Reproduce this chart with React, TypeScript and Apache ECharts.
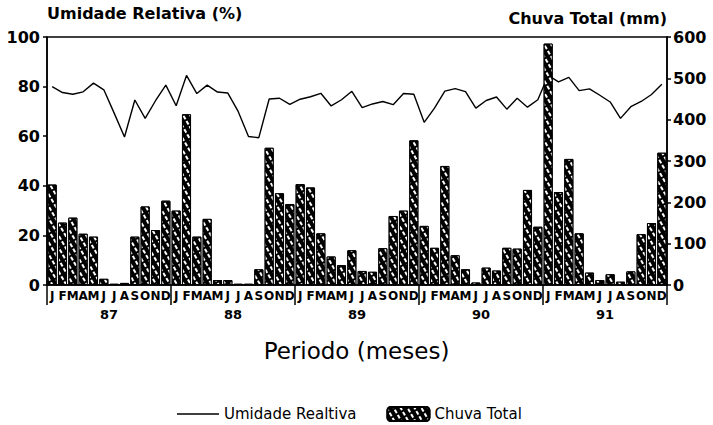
import React, { useEffect, useRef } from "react";
import * as echarts from "echarts";

const months = ["J", "F", "M", "A", "M", "J", "J", "A", "S", "O", "N", "D"];
const years = ["87", "88", "89", "90", "91"];
const humidityTicks = [0, 20, 40, 60, 80, 100];
const rainTicks = [0, 100, 200, 300, 400, 500, 600];

// Umidade relativa (%) - monthly, Jan 1987 .. Dec 1991
const humidity = [
  80, 77.6, 76.9, 77.9, 81.4, 78.7, 69.3, 59.7, 74.6, 67.2, 74.3, 80.6,
  72.3, 84.5, 77.2, 80.6, 77.8, 77.4, 70.0, 59.9, 59.4, 75.0, 75.3, 72.8,
  74.9, 75.9, 77.3, 72.2, 74.7, 78.1, 71.5, 73.0, 74.0, 72.7, 77.2, 76.9,
  65.6, 71.3, 78.2, 79.2, 78.0, 71.3, 74.4, 75.8, 70.9, 75.3, 71.7, 74.7,
  84.5, 81.9, 83.7, 78.4, 79.1, 76.5, 73.8, 67.2, 71.9, 74.0, 76.8, 80.9,
];

// Chuva total (mm) - monthly, Jan 1987 .. Dec 1991
const rain = [
  243, 151, 163, 124, 117, 15, 3, 5, 117, 190, 133, 204,
  180, 413, 117, 160, 12, 12, 3, 3, 38, 332, 222, 196,
  244, 236, 125, 69, 48, 84, 34, 32, 89, 167, 180, 350,
  143, 90, 288, 72, 38, 6, 42, 35, 90, 88, 230, 141,
  584, 225, 305, 125, 30, 12, 26, 8, 33, 123, 150, 320,
];

const categories = years.flatMap((y) => months.map((m, i) => `${m}|${y}|${i}`));

const FONT = "DejaVu Sans";

export default function App() {
  const ref = useRef<HTMLDivElement>(null);

  useEffect(() => {
    const chart = echarts.init(ref.current!, null, { renderer: "svg" });
    chart.setOption({
      animation: false,
      backgroundColor: "#fff",
      textStyle: { fontFamily: FONT, color: "#000" },
      grid: {
        left: 47,
        right: 46,
        top: 37,
        bottom: 140,
        show: true,
        borderColor: "#000",
        borderWidth: 1.5,
        backgroundColor: "transparent",
      },
      legend: {
        left: 172,
        top: 401,
        itemWidth: 42,
        itemHeight: 14,
        itemGap: 30,
        textStyle: { fontFamily: FONT, fontSize: 15, color: "#000" },
        data: [
          {
            name: "Umidade Realtiva",
            icon: "path://M0,0H42V1.5H0Z",
            itemStyle: { color: "#000", borderWidth: 0 },
          },
          { name: "Chuva Total" },
        ],
      },
      graphic: [
        {
          type: "text",
          left: 47,
          top: 5,
          style: { text: "Umidade Relativa (%)", font: `bold 16px "${FONT}"`, fill: "#000" },
        },
        {
          type: "text",
          right: 46,
          top: 10,
          style: { text: "Chuva Total (mm)", font: `bold 16px "${FONT}"`, fill: "#000" },
        },
        {
          type: "text",
          left: "center",
          top: 339,
          style: { text: "Periodo (meses)", font: `23px "${FONT}"`, fill: "#000" },
        },
      ],
      xAxis: [
        {
          type: "category",
          data: categories,
          boundaryGap: true,
          axisLine: { show: true, lineStyle: { color: "#000", width: 1.5 } },
          axisTick: { show: false },
          axisLabel: {
            interval: 0,
            margin: 5,
            fontFamily: FONT,
            fontWeight: "bold",
            fontSize: 12,
            color: "#000",
            formatter: (v: string) => v.split("|")[0],
          },
          splitLine: { show: false },
        },
        {
          type: "category",
          data: years,
          position: "bottom",
          offset: 17,
          boundaryGap: true,
          axisLine: { show: false },
          axisTick: { show: true, length: 20, lineStyle: { color: "#000", width: 1.5 } },
          axisLabel: {
            margin: 6,
            fontFamily: FONT,
            fontWeight: "bold",
            fontSize: 13,
            color: "#000",
          },
          splitLine: { show: false },
        },
      ],
      yAxis: [
        {
          type: "value",
          min: humidityTicks[0],
          max: humidityTicks[humidityTicks.length - 1],
          interval: 20,
          position: "left",
          axisLine: { show: true, lineStyle: { color: "#000", width: 1.5 } },
          axisTick: { show: true, length: 4, lineStyle: { color: "#000", width: 1.5 } },
          axisLabel: { margin: 7, fontFamily: FONT, fontWeight: "bold", fontSize: 16, color: "#000" },
          splitLine: { show: false },
        },
        {
          type: "value",
          min: rainTicks[0],
          max: rainTicks[rainTicks.length - 1],
          interval: 100,
          position: "right",
          axisLine: { show: true, lineStyle: { color: "#000", width: 1.5 } },
          axisTick: { show: true, length: 4, lineStyle: { color: "#000", width: 1.5 } },
          axisLabel: { margin: 6, fontFamily: FONT, fontWeight: "bold", fontSize: 16, color: "#000" },
          splitLine: { show: false },
        },
      ],
      series: [
        {
          name: "Umidade Realtiva",
          type: "line",
          xAxisIndex: 0,
          yAxisIndex: 0,
          data: humidity,
          symbol: "none",
          lineStyle: { color: "#000", width: 1.4 },
          itemStyle: { color: "#000" },
          z: 2,
        },
        {
          name: "Chuva Total",
          type: "bar",
          xAxisIndex: 0,
          yAxisIndex: 1,
          data: rain,
          barCategoryGap: "12%",
          itemStyle: {
            color: "#000",
            borderColor: "#000",
            borderWidth: 1,
            decal: {
              symbol: "rect",
              color: "#fff",
              dashArrayX: [4, 2],
              dashArrayY: [1.5, 3.5],
              rotation: Math.PI / 3,
              symbolSize: 1,
            },
          },
          z: 3,
        },
      ],
    });
    return () => chart.dispose();
  }, []);

  return (
    <div
      ref={ref}
      style={{ position: "absolute", left: 0, top: 0, width: 713, height: 425, background: "#fff" }}
    />
  );
}
